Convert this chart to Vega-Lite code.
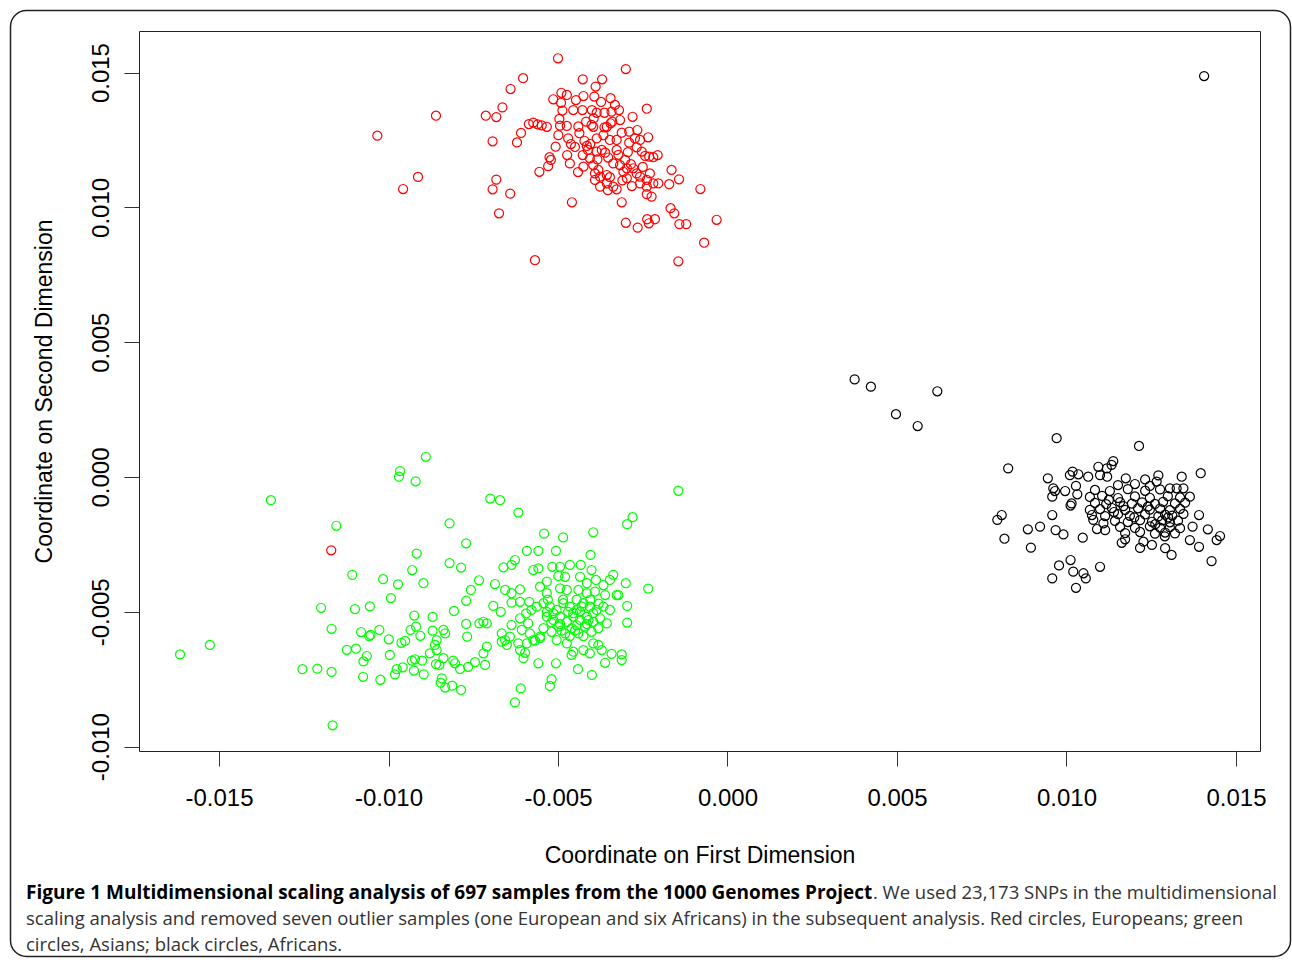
{
"$schema": "https://vega.github.io/schema/vega-lite/v6.json",
"width": 1121,
"height": 720,
"autosize": {"type": "none"},
"padding": {"left": 139, "top": 31, "right": 32, "bottom": 212},
"background": "#ffffff",
"title": {
  "text": "Figure 1 Multidimensional scaling analysis of 697 samples from the 1000 Genomes Project",
  "subtitle": [
    "\u2060\u2003\u2003\u2003\u2003\u2003\u2003\u2003\u2003\u2003\u2003\u2003\u2003\u2003\u2003\u2003\u2003\u2003\u2003\u2003\u2003\u2003\u2003\u2003\u2003\u2003\u2003\u2003\u2003\u2003\u2003\u2003\u2003\u2003\u2003\u2003\u2003\u2003\u2003\u2003\u2003\u2003\u2003\u2003\u2003\u2003\u00a0\u00a0\u00a0. We used 23,173 SNPs in the multidimensional",
    "scaling analysis and removed seven outlier samples (one European and six Africans) in the subsequent analysis. Red circles, Europeans; green",
    "circles, Asians; black circles, Africans."
  ],
  "orient": "bottom",
  "anchor": "start",
  "frame": "group",
  "dx": -113,
  "offset": -73,
  "font": "Open Sans",
  "fontSize": 19,
  "fontWeight": "bold",
  "color": "#000000",
  "subtitleFont": "Open Sans",
  "subtitleFontSize": 18.5,
  "subtitleFontWeight": "normal",
  "subtitleColor": "#333333",
  "subtitlePadding": -19,
  "subtitleLineHeight": 26
},
"config": {
  "view": {"stroke": "#222222", "strokeWidth": 1},
  "axis": {
    "grid": false,
    "domain": false,
    "tickColor": "#333333",
    "tickSize": 15,
    "tickWidth": 1,
    "labelFont": "Liberation Sans",
    "titleFont": "Liberation Sans",
    "labelFontSize": 24,
    "titleFontSize": 23,
    "labelColor": "#000000",
    "titleColor": "#000000",
    "titleFontWeight": "normal"
  }
},
"layer": [
  {
    "data": {"values": [{"frame": 1}]},
    "mark": {"type": "rect", "fill": "transparent", "stroke": "#222222", "strokeWidth": 1.5, "cornerRadius": 16, "clip": false},
    "encoding": {
      "x": {"datum": -0.0211515, "type": "quantitative", "scale": {"domain": [-0.0173608, 0.0157088], "nice": false, "zero": false}},
      "x2": {"datum": 0.0166085},
      "y": {"datum": 0.017303, "type": "quantitative", "scale": {"domain": [-0.0101627, 0.0165421], "nice": false, "zero": false}},
      "y2": {"datum": -0.017785}
    }
  },
  {
    "data": {"values": [
{"x":-0.01033,"y":0.01266,"group":"European"},{"x":-0.00860,"y":0.01340,"group":"European"},{"x":-0.00913,"y":0.01113,"group":"European"},{"x":-0.00957,"y":0.01068,"group":"European"},{"x":-0.00713,"y":0.01340,"group":"European"},{"x":-0.00682,"y":0.01335,"group":"European"},{"x":-0.00664,"y":0.01371,"group":"European"},{"x":-0.00640,"y":0.01439,"group":"European"},{"x":-0.00603,"y":0.01479,"group":"European"},{"x":-0.00693,"y":0.01245,"group":"European"},{"x":-0.00609,"y":0.01276,"group":"European"},{"x":-0.00621,"y":0.01241,"group":"European"},{"x":-0.00682,"y":0.01103,"group":"European"},{"x":-0.00693,"y":0.01067,"group":"European"},{"x":-0.00641,"y":0.01051,"group":"European"},{"x":-0.00674,"y":0.00978,"group":"European"},{"x":-0.00568,"y":0.00804,"group":"European"},{"x":-0.00500,"y":0.01553,"group":"European"},{"x":-0.00300,"y":0.01513,"group":"European"},{"x":-0.00555,"y":0.01132,"group":"European"},{"x":-0.00459,"y":0.01019,"group":"European"},
{"x":-0.00586,"y":0.01309,"group":"European"},{"x":-0.00573,"y":0.01314,"group":"European"},{"x":-0.00560,"y":0.01308,"group":"European"},{"x":-0.00548,"y":0.01304,"group":"European"},{"x":-0.00533,"y":0.01299,"group":"European"},
{"x":-0.00525,"y":0.01186,"group":"European"},{"x":-0.00529,"y":0.01153,"group":"European"},{"x":-0.00521,"y":0.01176,"group":"European"},{"x":-0.00507,"y":0.01225,"group":"European"},{"x":-0.00499,"y":0.01268,"group":"European"},
{"x":-0.00496,"y":0.01328,"group":"European"},{"x":-0.00487,"y":0.01359,"group":"European"},{"x":-0.00491,"y":0.01388,"group":"European"},{"x":-0.00514,"y":0.01401,"group":"European"},{"x":-0.00490,"y":0.01425,"group":"European"},{"x":-0.00474,"y":0.01417,"group":"European"},
{"x":-0.00427,"y":0.01475,"group":"European"},{"x":-0.00389,"y":0.01448,"group":"European"},{"x":-0.00370,"y":0.01475,"group":"European"},{"x":-0.00393,"y":0.01411,"group":"European"},{"x":-0.00425,"y":0.01413,"group":"European"},{"x":-0.00447,"y":0.01398,"group":"European"},{"x":-0.00428,"y":0.01361,"group":"European"},{"x":-0.00455,"y":0.01361,"group":"European"},
{"x":-0.00345,"y":0.01405,"group":"European"},{"x":-0.00320,"y":0.01361,"group":"European"},{"x":-0.00342,"y":0.01355,"group":"European"},{"x":-0.00363,"y":0.01351,"group":"European"},{"x":-0.00386,"y":0.01351,"group":"European"},{"x":-0.00400,"y":0.01361,"group":"European"},
{"x":-0.00280,"y":0.01336,"group":"European"},{"x":-0.00238,"y":0.01366,"group":"European"},
{"x":-0.00474,"y":0.01302,"group":"European"},{"x":-0.00494,"y":0.01303,"group":"European"},{"x":-0.00470,"y":0.01256,"group":"European"},{"x":-0.00462,"y":0.01235,"group":"European"},{"x":-0.00473,"y":0.01194,"group":"European"},{"x":-0.00465,"y":0.01163,"group":"European"},
{"x":-0.00437,"y":0.01275,"group":"European"},{"x":-0.00422,"y":0.01247,"group":"European"},{"x":-0.00415,"y":0.01228,"group":"European"},{"x":-0.00427,"y":0.01194,"group":"European"},{"x":-0.00425,"y":0.01151,"group":"European"},{"x":-0.00406,"y":0.01182,"group":"European"},
{"x":-0.00417,"y":0.01318,"group":"European"},{"x":-0.00401,"y":0.01306,"group":"European"},{"x":-0.00396,"y":0.01299,"group":"European"},{"x":-0.00386,"y":0.01256,"group":"European"},{"x":-0.00366,"y":0.01268,"group":"European"},{"x":-0.00356,"y":0.01299,"group":"European"},{"x":-0.00345,"y":0.01312,"group":"European"},{"x":-0.00340,"y":0.01318,"group":"European"},{"x":-0.00363,"y":0.01297,"group":"European"},
{"x":-0.00386,"y":0.01207,"group":"European"},{"x":-0.00371,"y":0.01213,"group":"European"},{"x":-0.00361,"y":0.01203,"group":"European"},{"x":-0.00384,"y":0.01178,"group":"European"},{"x":-0.00396,"y":0.01157,"group":"European"},{"x":-0.00381,"y":0.01139,"group":"European"},
{"x":-0.00347,"y":0.01250,"group":"European"},{"x":-0.00327,"y":0.01250,"group":"European"},{"x":-0.00312,"y":0.01277,"group":"European"},{"x":-0.00327,"y":0.01213,"group":"European"},{"x":-0.00337,"y":0.01163,"group":"European"},{"x":-0.00317,"y":0.01157,"group":"European"},{"x":-0.00302,"y":0.01176,"group":"European"},{"x":-0.00297,"y":0.01145,"group":"European"},{"x":-0.00307,"y":0.01132,"group":"European"},
{"x":-0.00290,"y":0.01281,"group":"European"},{"x":-0.00266,"y":0.01287,"group":"European"},{"x":-0.00273,"y":0.01256,"group":"European"},{"x":-0.00258,"y":0.01250,"group":"European"},{"x":-0.00234,"y":0.01260,"group":"European"},{"x":-0.00290,"y":0.01240,"group":"European"},{"x":-0.00268,"y":0.01223,"group":"European"},{"x":-0.00253,"y":0.01207,"group":"European"},{"x":-0.00243,"y":0.01191,"group":"European"},{"x":-0.00231,"y":0.01188,"group":"European"},{"x":-0.00219,"y":0.01186,"group":"European"},{"x":-0.00206,"y":0.01194,"group":"European"},
{"x":-0.00391,"y":0.01126,"group":"European"},{"x":-0.00376,"y":0.01114,"group":"European"},{"x":-0.00356,"y":0.01120,"group":"European"},{"x":-0.00347,"y":0.01112,"group":"European"},{"x":-0.00376,"y":0.01077,"group":"European"},{"x":-0.00356,"y":0.01089,"group":"European"},{"x":-0.00337,"y":0.01077,"group":"European"},{"x":-0.00327,"y":0.01067,"group":"European"},{"x":-0.00391,"y":0.01102,"group":"European"},
{"x":-0.00297,"y":0.01108,"group":"European"},{"x":-0.00278,"y":0.01145,"group":"European"},{"x":-0.00268,"y":0.01126,"group":"European"},{"x":-0.00258,"y":0.01114,"group":"European"},{"x":-0.00238,"y":0.01102,"group":"European"},{"x":-0.00229,"y":0.01126,"group":"European"},{"x":-0.00258,"y":0.01089,"group":"European"},{"x":-0.00238,"y":0.01077,"group":"European"},{"x":-0.00219,"y":0.01089,"group":"European"},{"x":-0.00204,"y":0.01089,"group":"European"},
{"x":-0.00312,"y":0.01019,"group":"European"},{"x":-0.00238,"y":0.01049,"group":"European"},{"x":-0.00224,"y":0.01040,"group":"European"},{"x":-0.00165,"y":0.01139,"group":"European"},{"x":-0.00143,"y":0.01104,"group":"European"},{"x":-0.00172,"y":0.01086,"group":"European"},{"x":-0.00080,"y":0.01068,"group":"European"},
{"x":-0.00300,"y":0.00943,"group":"European"},{"x":-0.00265,"y":0.00925,"group":"European"},{"x":-0.00237,"y":0.00956,"group":"European"},{"x":-0.00232,"y":0.00941,"group":"European"},{"x":-0.00214,"y":0.00956,"group":"European"},{"x":-0.00168,"y":0.00997,"group":"European"},{"x":-0.00157,"y":0.00978,"group":"European"},{"x":-0.00142,"y":0.00938,"group":"European"},{"x":-0.00122,"y":0.00938,"group":"European"},{"x":-0.00032,"y":0.00954,"group":"European"},{"x":-0.00069,"y":0.00869,"group":"European"},{"x":-0.00145,"y":0.00800,"group":"European"},
{"x":-0.01169,"y":-0.00272,"group":"European"},
{"x":-0.00412,"y":0.01213,"group":"European"},{"x":-0.00317,"y":0.01324,"group":"European"},{"x":-0.00294,"y":0.01205,"group":"European"},{"x":-0.00441,"y":0.01131,"group":"European"},{"x":-0.00282,"y":0.01079,"group":"European"},{"x":-0.00450,"y":0.01224,"group":"European"},{"x":-0.00353,"y":0.01064,"group":"European"},{"x":-0.00332,"y":0.01380,"group":"European"},{"x":-0.00373,"y":0.01391,"group":"European"},
{"x":-0.00405,"y":0.01235,"group":"European"},{"x":-0.00352,"y":0.01185,"group":"European"},{"x":-0.00322,"y":0.01195,"group":"European"},{"x":-0.00285,"y":0.01160,"group":"European"},{"x":-0.00395,"y":0.01330,"group":"European"},{"x":-0.00440,"y":0.01300,"group":"European"},{"x":-0.00310,"y":0.01100,"group":"European"},{"x":-0.00250,"y":0.01150,"group":"European"},
{"x":-0.01615,"y":-0.00658,"group":"Asian"},{"x":-0.01527,"y":-0.00623,"group":"Asian"},{"x":-0.01347,"y":-0.00086,"group":"Asian"},{"x":-0.01154,"y":-0.00181,"group":"Asian"},{"x":-0.01107,"y":-0.00363,"group":"Asian"},{"x":-0.01199,"y":-0.00485,"group":"Asian"},{"x":-0.01168,"y":-0.00563,"group":"Asian"},{"x":-0.01254,"y":-0.00713,"group":"Asian"},{"x":-0.01210,"y":-0.00711,"group":"Asian"},{"x":-0.01168,"y":-0.00723,"group":"Asian"},{"x":-0.01165,"y":-0.00921,"group":"Asian"},{"x":-0.01099,"y":-0.00490,"group":"Asian"},{"x":-0.01055,"y":-0.00480,"group":"Asian"},{"x":-0.01016,"y":-0.00379,"group":"Asian"},{"x":-0.00972,"y":-0.00398,"group":"Asian"},{"x":-0.00993,"y":-0.00449,"group":"Asian"},{"x":-0.00930,"y":-0.00345,"group":"Asian"},{"x":-0.00917,"y":-0.00284,"group":"Asian"},{"x":-0.00897,"y":-0.00394,"group":"Asian"},{"x":-0.00820,"y":-0.00172,"group":"Asian"},{"x":-0.00820,"y":-0.00319,"group":"Asian"},{"x":-0.00890,"y":0.00075,"group":"Asian"},{"x":-0.00966,"y":0.00022,"group":"Asian"},{"x":-0.00969,"y":0.00001,"group":"Asian"},{"x":-0.00920,"y":-0.00016,"group":"Asian"},{"x":-0.01123,"y":-0.00641,"group":"Asian"},{"x":-0.01096,"y":-0.00637,"group":"Asian"},{"x":-0.01081,"y":-0.00575,"group":"Asian"},{"x":-0.01064,"y":-0.00664,"group":"Asian"},{"x":-0.01074,"y":-0.00684,"group":"Asian"},{"x":-0.01053,"y":-0.00586,"group":"Asian"},{"x":-0.01057,"y":-0.00590,"group":"Asian"},{"x":-0.01027,"y":-0.00567,"group":"Asian"},{"x":-0.00999,"y":-0.00602,"group":"Asian"},{"x":-0.00996,"y":-0.00660,"group":"Asian"},{"x":-0.01075,"y":-0.00741,"group":"Asian"},{"x":-0.01024,"y":-0.00752,"group":"Asian"},{"x":-0.00981,"y":-0.00732,"group":"Asian"},{"x":-0.00976,"y":-0.00713,"group":"Asian"},{"x":-0.00958,"y":-0.00706,"group":"Asian"},{"x":-0.00962,"y":-0.00615,"group":"Asian"},{"x":-0.00951,"y":-0.00608,"group":"Asian"},{"x":-0.00924,"y":-0.00514,"group":"Asian"},{"x":-0.00935,"y":-0.00567,"group":"Asian"},{"x":-0.00919,"y":-0.00555,"group":"Asian"},{"x":-0.00906,"y":-0.00589,"group":"Asian"},{"x":-0.00931,"y":-0.00681,"group":"Asian"},{"x":-0.00922,"y":-0.00676,"group":"Asian"},{"x":-0.00901,"y":-0.00681,"group":"Asian"},{"x":-0.00925,"y":-0.00718,"group":"Asian"},{"x":-0.00896,"y":-0.00732,"group":"Asian"},{"x":-0.00870,"y":-0.00519,"group":"Asian"},{"x":-0.00870,"y":-0.00570,"group":"Asian"},{"x":-0.00838,"y":-0.00567,"group":"Asian"},{"x":-0.00833,"y":-0.00580,"group":"Asian"},{"x":-0.00858,"y":-0.00605,"group":"Asian"},{"x":-0.00863,"y":-0.00623,"group":"Asian"},{"x":-0.00858,"y":-0.00642,"group":"Asian"},{"x":-0.00878,"y":-0.00654,"group":"Asian"},{"x":-0.00838,"y":-0.00672,"group":"Asian"},{"x":-0.00860,"y":-0.00694,"group":"Asian"},{"x":-0.00850,"y":-0.00697,"group":"Asian"},{"x":-0.00809,"y":-0.00681,"group":"Asian"},{"x":-0.00804,"y":-0.00691,"group":"Asian"},{"x":-0.00807,"y":-0.00497,"group":"Asian"},{"x":-0.00843,"y":-0.00747,"group":"Asian"},{"x":-0.00846,"y":-0.00763,"group":"Asian"},{"x":-0.00833,"y":-0.00781,"group":"Asian"},{"x":-0.00812,"y":-0.00774,"group":"Asian"},
{"x":-0.00145,"y":-0.00051,"group":"Asian"},{"x":-0.00280,"y":-0.00149,"group":"Asian"},{"x":-0.00296,"y":-0.00175,"group":"Asian"},{"x":-0.00396,"y":-0.00205,"group":"Asian"},{"x":-0.00404,"y":-0.00289,"group":"Asian"},{"x":-0.00700,"y":-0.00080,"group":"Asian"},{"x":-0.00671,"y":-0.00086,"group":"Asian"},{"x":-0.00617,"y":-0.00132,"group":"Asian"},{"x":-0.00771,"y":-0.00246,"group":"Asian"},{"x":-0.00541,"y":-0.00210,"group":"Asian"},{"x":-0.00485,"y":-0.00224,"group":"Asian"},{"x":-0.00592,"y":-0.00274,"group":"Asian"},{"x":-0.00558,"y":-0.00274,"group":"Asian"},{"x":-0.00506,"y":-0.00274,"group":"Asian"},{"x":-0.00786,"y":-0.00336,"group":"Asian"},{"x":-0.00733,"y":-0.00383,"group":"Asian"},{"x":-0.00757,"y":-0.00419,"group":"Asian"},{"x":-0.00771,"y":-0.00459,"group":"Asian"},{"x":-0.00771,"y":-0.00545,"group":"Asian"},{"x":-0.00768,"y":-0.00592,"group":"Asian"},{"x":-0.00732,"y":-0.00543,"group":"Asian"},{"x":-0.00720,"y":-0.00537,"group":"Asian"},{"x":-0.00710,"y":-0.00543,"group":"Asian"},{"x":-0.00710,"y":-0.00629,"group":"Asian"},{"x":-0.00720,"y":-0.00654,"group":"Asian"},{"x":-0.00745,"y":-0.00687,"group":"Asian"},{"x":-0.00765,"y":-0.00704,"group":"Asian"},{"x":-0.00789,"y":-0.00712,"group":"Asian"},{"x":-0.00715,"y":-0.00697,"group":"Asian"},{"x":-0.00786,"y":-0.00790,"group":"Asian"},{"x":-0.00627,"y":-0.00836,"group":"Asian"},{"x":-0.00610,"y":-0.00784,"group":"Asian"},{"x":-0.00519,"y":-0.00750,"group":"Asian"},{"x":-0.00524,"y":-0.00775,"group":"Asian"},{"x":-0.00558,"y":-0.00691,"group":"Asian"},{"x":-0.00506,"y":-0.00691,"group":"Asian"},{"x":-0.00441,"y":-0.00713,"group":"Asian"},{"x":-0.00400,"y":-0.00734,"group":"Asian"},{"x":-0.00361,"y":-0.00689,"group":"Asian"},{"x":-0.00342,"y":-0.00656,"group":"Asian"},{"x":-0.00312,"y":-0.00658,"group":"Asian"},{"x":-0.00312,"y":-0.00679,"group":"Asian"},{"x":-0.00296,"y":-0.00540,"group":"Asian"},{"x":-0.00296,"y":-0.00478,"group":"Asian"},{"x":-0.00300,"y":-0.00394,"group":"Asian"},{"x":-0.00337,"y":-0.00363,"group":"Asian"},{"x":-0.00322,"y":-0.00438,"group":"Asian"},{"x":-0.00234,"y":-0.00414,"group":"Asian"},{"x":-0.00661,"y":-0.00335,"group":"Asian"},{"x":-0.00627,"y":-0.00308,"group":"Asian"},{"x":-0.00637,"y":-0.00326,"group":"Asian"},{"x":-0.00686,"y":-0.00397,"group":"Asian"},{"x":-0.00691,"y":-0.00478,"group":"Asian"},{"x":-0.00669,"y":-0.00500,"group":"Asian"},{"x":-0.00637,"y":-0.00466,"group":"Asian"},{"x":-0.00612,"y":-0.00463,"group":"Asian"},{"x":-0.00585,"y":-0.00463,"group":"Asian"},{"x":-0.00656,"y":-0.00419,"group":"Asian"},{"x":-0.00637,"y":-0.00431,"group":"Asian"},{"x":-0.00612,"y":-0.00417,"group":"Asian"},{"x":-0.00666,"y":-0.00580,"group":"Asian"},{"x":-0.00656,"y":-0.00605,"group":"Asian"},{"x":-0.00637,"y":-0.00549,"group":"Asian"},{"x":-0.00612,"y":-0.00524,"group":"Asian"},{"x":-0.00588,"y":-0.00543,"group":"Asian"},{"x":-0.00607,"y":-0.00567,"group":"Asian"},{"x":-0.00583,"y":-0.00580,"group":"Asian"},{"x":-0.00666,"y":-0.00611,"group":"Asian"},{"x":-0.00651,"y":-0.00623,"group":"Asian"},{"x":-0.00612,"y":-0.00642,"group":"Asian"},{"x":-0.00597,"y":-0.00652,"group":"Asian"},{"x":-0.00602,"y":-0.00672,"group":"Asian"},{"x":-0.00568,"y":-0.00607,"group":"Asian"},{"x":-0.00553,"y":-0.00598,"group":"Asian"},{"x":-0.00573,"y":-0.00345,"group":"Asian"},{"x":-0.00558,"y":-0.00339,"group":"Asian"},{"x":-0.00517,"y":-0.00333,"group":"Asian"},{"x":-0.00494,"y":-0.00333,"group":"Asian"},{"x":-0.00465,"y":-0.00326,"group":"Asian"},{"x":-0.00433,"y":-0.00326,"group":"Asian"},{"x":-0.00401,"y":-0.00345,"group":"Asian"},{"x":-0.00533,"y":-0.00388,"group":"Asian"},{"x":-0.00499,"y":-0.00367,"group":"Asian"},{"x":-0.00479,"y":-0.00370,"group":"Asian"},{"x":-0.00435,"y":-0.00370,"group":"Asian"},{"x":-0.00415,"y":-0.00394,"group":"Asian"},{"x":-0.00388,"y":-0.00382,"group":"Asian"},{"x":-0.00366,"y":-0.00401,"group":"Asian"},{"x":-0.00347,"y":-0.00382,"group":"Asian"},{"x":-0.00553,"y":-0.00407,"group":"Asian"},{"x":-0.00533,"y":-0.00431,"group":"Asian"},{"x":-0.00494,"y":-0.00413,"group":"Asian"},{"x":-0.00474,"y":-0.00419,"group":"Asian"},{"x":-0.00440,"y":-0.00419,"group":"Asian"},{"x":-0.00415,"y":-0.00431,"group":"Asian"},{"x":-0.00391,"y":-0.00425,"group":"Asian"},{"x":-0.00361,"y":-0.00438,"group":"Asian"},{"x":-0.00327,"y":-0.00438,"group":"Asian"},
{"x":-0.00543,"y":-0.00468,"group":"Asian"},{"x":-0.00524,"y":-0.00481,"group":"Asian"},{"x":-0.00504,"y":-0.00493,"group":"Asian"},{"x":-0.00484,"y":-0.00468,"group":"Asian"},{"x":-0.00465,"y":-0.00481,"group":"Asian"},{"x":-0.00445,"y":-0.00493,"group":"Asian"},{"x":-0.00425,"y":-0.00468,"group":"Asian"},{"x":-0.00406,"y":-0.00481,"group":"Asian"},{"x":-0.00386,"y":-0.00493,"group":"Asian"},{"x":-0.00366,"y":-0.00481,"group":"Asian"},{"x":-0.00347,"y":-0.00493,"group":"Asian"},
{"x":-0.00533,"y":-0.00518,"group":"Asian"},{"x":-0.00514,"y":-0.00530,"group":"Asian"},{"x":-0.00494,"y":-0.00518,"group":"Asian"},{"x":-0.00474,"y":-0.00537,"group":"Asian"},{"x":-0.00455,"y":-0.00518,"group":"Asian"},{"x":-0.00435,"y":-0.00530,"group":"Asian"},{"x":-0.00415,"y":-0.00518,"group":"Asian"},{"x":-0.00396,"y":-0.00537,"group":"Asian"},{"x":-0.00376,"y":-0.00524,"group":"Asian"},{"x":-0.00356,"y":-0.00543,"group":"Asian"},
{"x":-0.00543,"y":-0.00561,"group":"Asian"},{"x":-0.00519,"y":-0.00574,"group":"Asian"},{"x":-0.00499,"y":-0.00555,"group":"Asian"},{"x":-0.00479,"y":-0.00580,"group":"Asian"},{"x":-0.00460,"y":-0.00561,"group":"Asian"},{"x":-0.00440,"y":-0.00580,"group":"Asian"},{"x":-0.00420,"y":-0.00555,"group":"Asian"},{"x":-0.00401,"y":-0.00574,"group":"Asian"},{"x":-0.00381,"y":-0.00561,"group":"Asian"},{"x":-0.00553,"y":-0.00592,"group":"Asian"},
{"x":-0.00504,"y":-0.00605,"group":"Asian"},{"x":-0.00474,"y":-0.00617,"group":"Asian"},{"x":-0.00455,"y":-0.00648,"group":"Asian"},{"x":-0.00460,"y":-0.00660,"group":"Asian"},{"x":-0.00425,"y":-0.00642,"group":"Asian"},{"x":-0.00396,"y":-0.00617,"group":"Asian"},{"x":-0.00381,"y":-0.00623,"group":"Asian"},{"x":-0.00371,"y":-0.00642,"group":"Asian"},{"x":-0.00406,"y":-0.00654,"group":"Asian"},{"x":-0.00642,"y":-0.00592,"group":"Asian"},{"x":-0.00617,"y":-0.00617,"group":"Asian"},{"x":-0.00592,"y":-0.00617,"group":"Asian"},{"x":-0.00573,"y":-0.00605,"group":"Asian"},{"x":-0.00594,"y":-0.00506,"group":"Asian"},{"x":-0.00578,"y":-0.00493,"group":"Asian"},{"x":-0.00563,"y":-0.00481,"group":"Asian"},
{"x":-0.00533,"y":-0.00500,"group":"Asian"},{"x":-0.00514,"y":-0.00505,"group":"Asian"},{"x":-0.00455,"y":-0.00505,"group":"Asian"},{"x":-0.00435,"y":-0.00500,"group":"Asian"},{"x":-0.00396,"y":-0.00505,"group":"Asian"},{"x":-0.00494,"y":-0.00545,"group":"Asian"},{"x":-0.00445,"y":-0.00550,"group":"Asian"},{"x":-0.00415,"y":-0.00545,"group":"Asian"},{"x":-0.00465,"y":-0.00590,"group":"Asian"},{"x":-0.00425,"y":-0.00590,"group":"Asian"},{"x":-0.00485,"y":-0.00455,"group":"Asian"},{"x":-0.00445,"y":-0.00455,"group":"Asian"},{"x":-0.00405,"y":-0.00455,"group":"Asian"},
{"x":-0.00520,"y":-0.00540,"group":"Asian"},{"x":-0.00470,"y":-0.00500,"group":"Asian"},{"x":-0.00430,"y":-0.00480,"group":"Asian"},{"x":-0.00450,"y":-0.00570,"group":"Asian"},{"x":-0.00410,"y":-0.00530,"group":"Asian"},{"x":-0.00490,"y":-0.00570,"group":"Asian"},{"x":-0.00530,"y":-0.00455,"group":"Asian"},{"x":-0.00380,"y":-0.00470,"group":"Asian"},
{"x":0.00375,"y":0.00362,"group":"African"},{"x":0.00423,"y":0.00335,"group":"African"},{"x":0.00619,"y":0.00318,"group":"African"},{"x":0.00497,"y":0.00233,"group":"African"},{"x":0.00561,"y":0.00189,"group":"African"},{"x":0.00971,"y":0.00144,"group":"African"},{"x":0.01214,"y":0.00115,"group":"African"},{"x":0.00828,"y":0.00032,"group":"African"},{"x":0.00796,"y":-0.00159,"group":"African"},{"x":0.00809,"y":-0.00141,"group":"African"},{"x":0.00817,"y":-0.00229,"group":"African"},{"x":0.00886,"y":-0.00194,"group":"African"},{"x":0.00922,"y":-0.00184,"group":"African"},{"x":0.00895,"y":-0.00262,"group":"African"},{"x":0.00958,"y":-0.00141,"group":"African"},{"x":0.00968,"y":-0.00197,"group":"African"},{"x":0.00991,"y":-0.00213,"group":"African"},{"x":0.01048,"y":-0.00225,"group":"African"},{"x":0.00945,"y":-0.00005,"group":"African"},{"x":0.00961,"y":-0.00042,"group":"African"},{"x":0.00966,"y":-0.00052,"group":"African"},{"x":0.00958,"y":-0.00073,"group":"African"},{"x":0.00996,"y":-0.00052,"group":"African"},{"x":0.01028,"y":-0.00033,"group":"African"},{"x":0.01032,"y":-0.00064,"group":"African"},{"x":0.01015,"y":-0.00098,"group":"African"},{"x":0.01012,"y":-0.00106,"group":"African"},{"x":0.01010,"y":0.00007,"group":"African"},{"x":0.01018,"y":0.00020,"group":"African"},{"x":0.01035,"y":0.00010,"group":"African"},{"x":0.01064,"y":0.00001,"group":"African"},{"x":0.01094,"y":0.00038,"group":"African"},{"x":0.01119,"y":0.00032,"group":"African"},{"x":0.01133,"y":0.00045,"group":"African"},{"x":0.01138,"y":0.00059,"group":"African"},{"x":0.01099,"y":0.00007,"group":"African"},{"x":0.01120,"y":0.00001,"group":"African"},{"x":0.01175,"y":-0.00005,"group":"African"},{"x":0.01232,"y":-0.00009,"group":"African"},{"x":0.01271,"y":0.00006,"group":"African"},{"x":0.01266,"y":-0.00017,"group":"African"},{"x":0.01340,"y":0.00001,"group":"African"},{"x":0.01396,"y":0.00014,"group":"African"},{"x":0.01305,"y":-0.00042,"group":"African"},{"x":0.01325,"y":-0.00042,"group":"African"},{"x":0.01345,"y":-0.00042,"group":"African"},{"x":0.01364,"y":-0.00073,"group":"African"},{"x":0.01391,"y":-0.00141,"group":"African"},{"x":0.01372,"y":-0.00184,"group":"African"},{"x":0.01417,"y":-0.00194,"group":"African"},{"x":0.01364,"y":-0.00234,"group":"African"},{"x":0.01391,"y":-0.00259,"group":"African"},{"x":0.01443,"y":-0.00234,"group":"African"},{"x":0.01453,"y":-0.00219,"group":"African"},{"x":0.01428,"y":-0.00312,"group":"African"},{"x":0.01291,"y":-0.00264,"group":"African"},{"x":0.01310,"y":-0.00289,"group":"African"},{"x":0.01227,"y":-0.00240,"group":"African"},{"x":0.01163,"y":-0.00244,"group":"African"},{"x":0.01173,"y":-0.00231,"group":"African"},{"x":0.01079,"y":-0.00159,"group":"African"},{"x":0.01114,"y":-0.00197,"group":"African"},{"x":0.01109,"y":-0.00172,"group":"African"},{"x":0.01099,"y":-0.00333,"group":"African"},{"x":0.01057,"y":-0.00376,"group":"African"},{"x":0.01050,"y":-0.00357,"group":"African"},{"x":0.01020,"y":-0.00351,"group":"African"},{"x":0.01012,"y":-0.00308,"group":"African"},{"x":0.00978,"y":-0.00328,"group":"African"},{"x":0.00958,"y":-0.00376,"group":"African"},{"x":0.01028,"y":-0.00411,"group":"African"},{"x":0.01406,"y":0.01487,"group":"African"},
{"x":0.01084,"y":-0.00048,"group":"African"},{"x":0.01128,"y":-0.00052,"group":"African"},{"x":0.01181,"y":-0.00045,"group":"African"},{"x":0.01232,"y":-0.00051,"group":"African"},{"x":0.01276,"y":-0.00046,"group":"African"},
{"x":0.01069,"y":-0.00074,"group":"African"},{"x":0.01105,"y":-0.00070,"group":"African"},{"x":0.01152,"y":-0.00078,"group":"African"},{"x":0.01202,"y":-0.00072,"group":"African"},{"x":0.01246,"y":-0.00077,"group":"African"},{"x":0.01299,"y":-0.00071,"group":"African"},{"x":0.01335,"y":-0.00076,"group":"African"},
{"x":0.01084,"y":-0.00096,"group":"African"},{"x":0.01117,"y":-0.00101,"group":"African"},{"x":0.01158,"y":-0.00093,"group":"African"},{"x":0.01193,"y":-0.00099,"group":"African"},{"x":0.01223,"y":-0.00094,"group":"African"},{"x":0.01261,"y":-0.00100,"group":"African"},{"x":0.01285,"y":-0.00092,"group":"African"},{"x":0.01320,"y":-0.00098,"group":"African"},{"x":0.01350,"y":-0.00095,"group":"African"},
{"x":0.01099,"y":-0.00119,"group":"African"},{"x":0.01134,"y":-0.00115,"group":"African"},{"x":0.01173,"y":-0.00122,"group":"African"},{"x":0.01211,"y":-0.00116,"group":"African"},{"x":0.01246,"y":-0.00121,"group":"African"},{"x":0.01276,"y":-0.00117,"group":"African"},{"x":0.01305,"y":-0.00123,"group":"African"},{"x":0.01335,"y":-0.00118,"group":"African"},
{"x":0.01075,"y":-0.00141,"group":"African"},{"x":0.01114,"y":-0.00145,"group":"African"},{"x":0.01152,"y":-0.00138,"group":"African"},{"x":0.01187,"y":-0.00144,"group":"African"},{"x":0.01232,"y":-0.00139,"group":"African"},{"x":0.01271,"y":-0.00146,"group":"African"},{"x":0.01291,"y":-0.00140,"group":"African"},{"x":0.01312,"y":-0.00143,"group":"African"},{"x":0.01345,"y":-0.00137,"group":"African"},
{"x":0.01143,"y":-0.00163,"group":"African"},{"x":0.01181,"y":-0.00167,"group":"African"},{"x":0.01217,"y":-0.00160,"group":"African"},{"x":0.01252,"y":-0.00166,"group":"African"},{"x":0.01282,"y":-0.00161,"group":"African"},{"x":0.01305,"y":-0.00168,"group":"African"},{"x":0.01329,"y":-0.00162,"group":"African"},
{"x":0.01158,"y":-0.00185,"group":"African"},{"x":0.01202,"y":-0.00189,"group":"African"},{"x":0.01246,"y":-0.00183,"group":"African"},{"x":0.01276,"y":-0.00188,"group":"African"},{"x":0.01305,"y":-0.00186,"group":"African"},{"x":0.01335,"y":-0.00190,"group":"African"},
{"x":0.01173,"y":-0.00208,"group":"African"},{"x":0.01217,"y":-0.00204,"group":"African"},{"x":0.01261,"y":-0.00210,"group":"African"},{"x":0.01291,"y":-0.00206,"group":"African"},{"x":0.01320,"y":-0.00209,"group":"African"},
{"x":0.01152,"y":-0.00030,"group":"African"},{"x":0.01202,"y":-0.00026,"group":"African"},{"x":0.01246,"y":-0.00033,"group":"African"},
{"x":0.01069,"y":-0.00122,"group":"African"},{"x":0.01090,"y":-0.00193,"group":"African"},{"x":0.01217,"y":-0.00263,"group":"African"},{"x":0.01252,"y":-0.00252,"group":"African"},
{"x":0.01125,"y":-0.00085,"group":"African"},{"x":0.01168,"y":-0.00108,"group":"African"},{"x":0.01240,"y":-0.00110,"group":"African"},{"x":0.01300,"y":-0.00150,"group":"African"},{"x":0.01200,"y":-0.00150,"group":"African"},{"x":0.01290,"y":-0.00220,"group":"African"},{"x":0.01140,"y":-0.00130,"group":"African"},{"x":0.01262,"y":-0.00175,"group":"African"}
    ]},
    "mark": {"type": "point", "shape": "circle", "filled": false, "size": 82, "strokeWidth": 1.2, "opacity": 1},
    "encoding": {
      "x": {
        "field": "x", "type": "quantitative",
        "scale": {"domain": [-0.0173608, 0.0157088], "nice": false, "zero": false},
        "axis": {
          "title": "Coordinate on First Dimension",
          "values": [-0.015, -0.01, -0.005, 0, 0.005, 0.01, 0.015],
          "labelExpr": "replace(format(datum.value, '.3f'), '\u2212', '-')",
          "labelPadding": 20,
          "titlePadding": 34,
          "labelFlush": false,
          "labelOverlap": false
        }
      },
      "y": {
        "field": "y", "type": "quantitative",
        "scale": {"domain": [-0.0101627, 0.0165421], "nice": false, "zero": false},
        "axis": {
          "title": "Coordinate on Second Dimension",
          "values": [-0.01, -0.005, 0, 0.005, 0.01, 0.015],
          "labelExpr": "replace(format(datum.value, '.3f'), '\u2212', '-')",
          "labelAngle": -90,
          "labelAlign": "center",
          "labelBaseline": "bottom",
          "labelPadding": 11,
          "titlePadding": 33,
          "labelFlush": false,
          "labelOverlap": false
        }
      },
      "color": {
        "field": "group", "type": "nominal",
        "scale": {"domain": ["European", "Asian", "African"], "range": ["#ff0000", "#00ff00", "#000000"]},
        "legend": null
      }
    }
  }
]
}
